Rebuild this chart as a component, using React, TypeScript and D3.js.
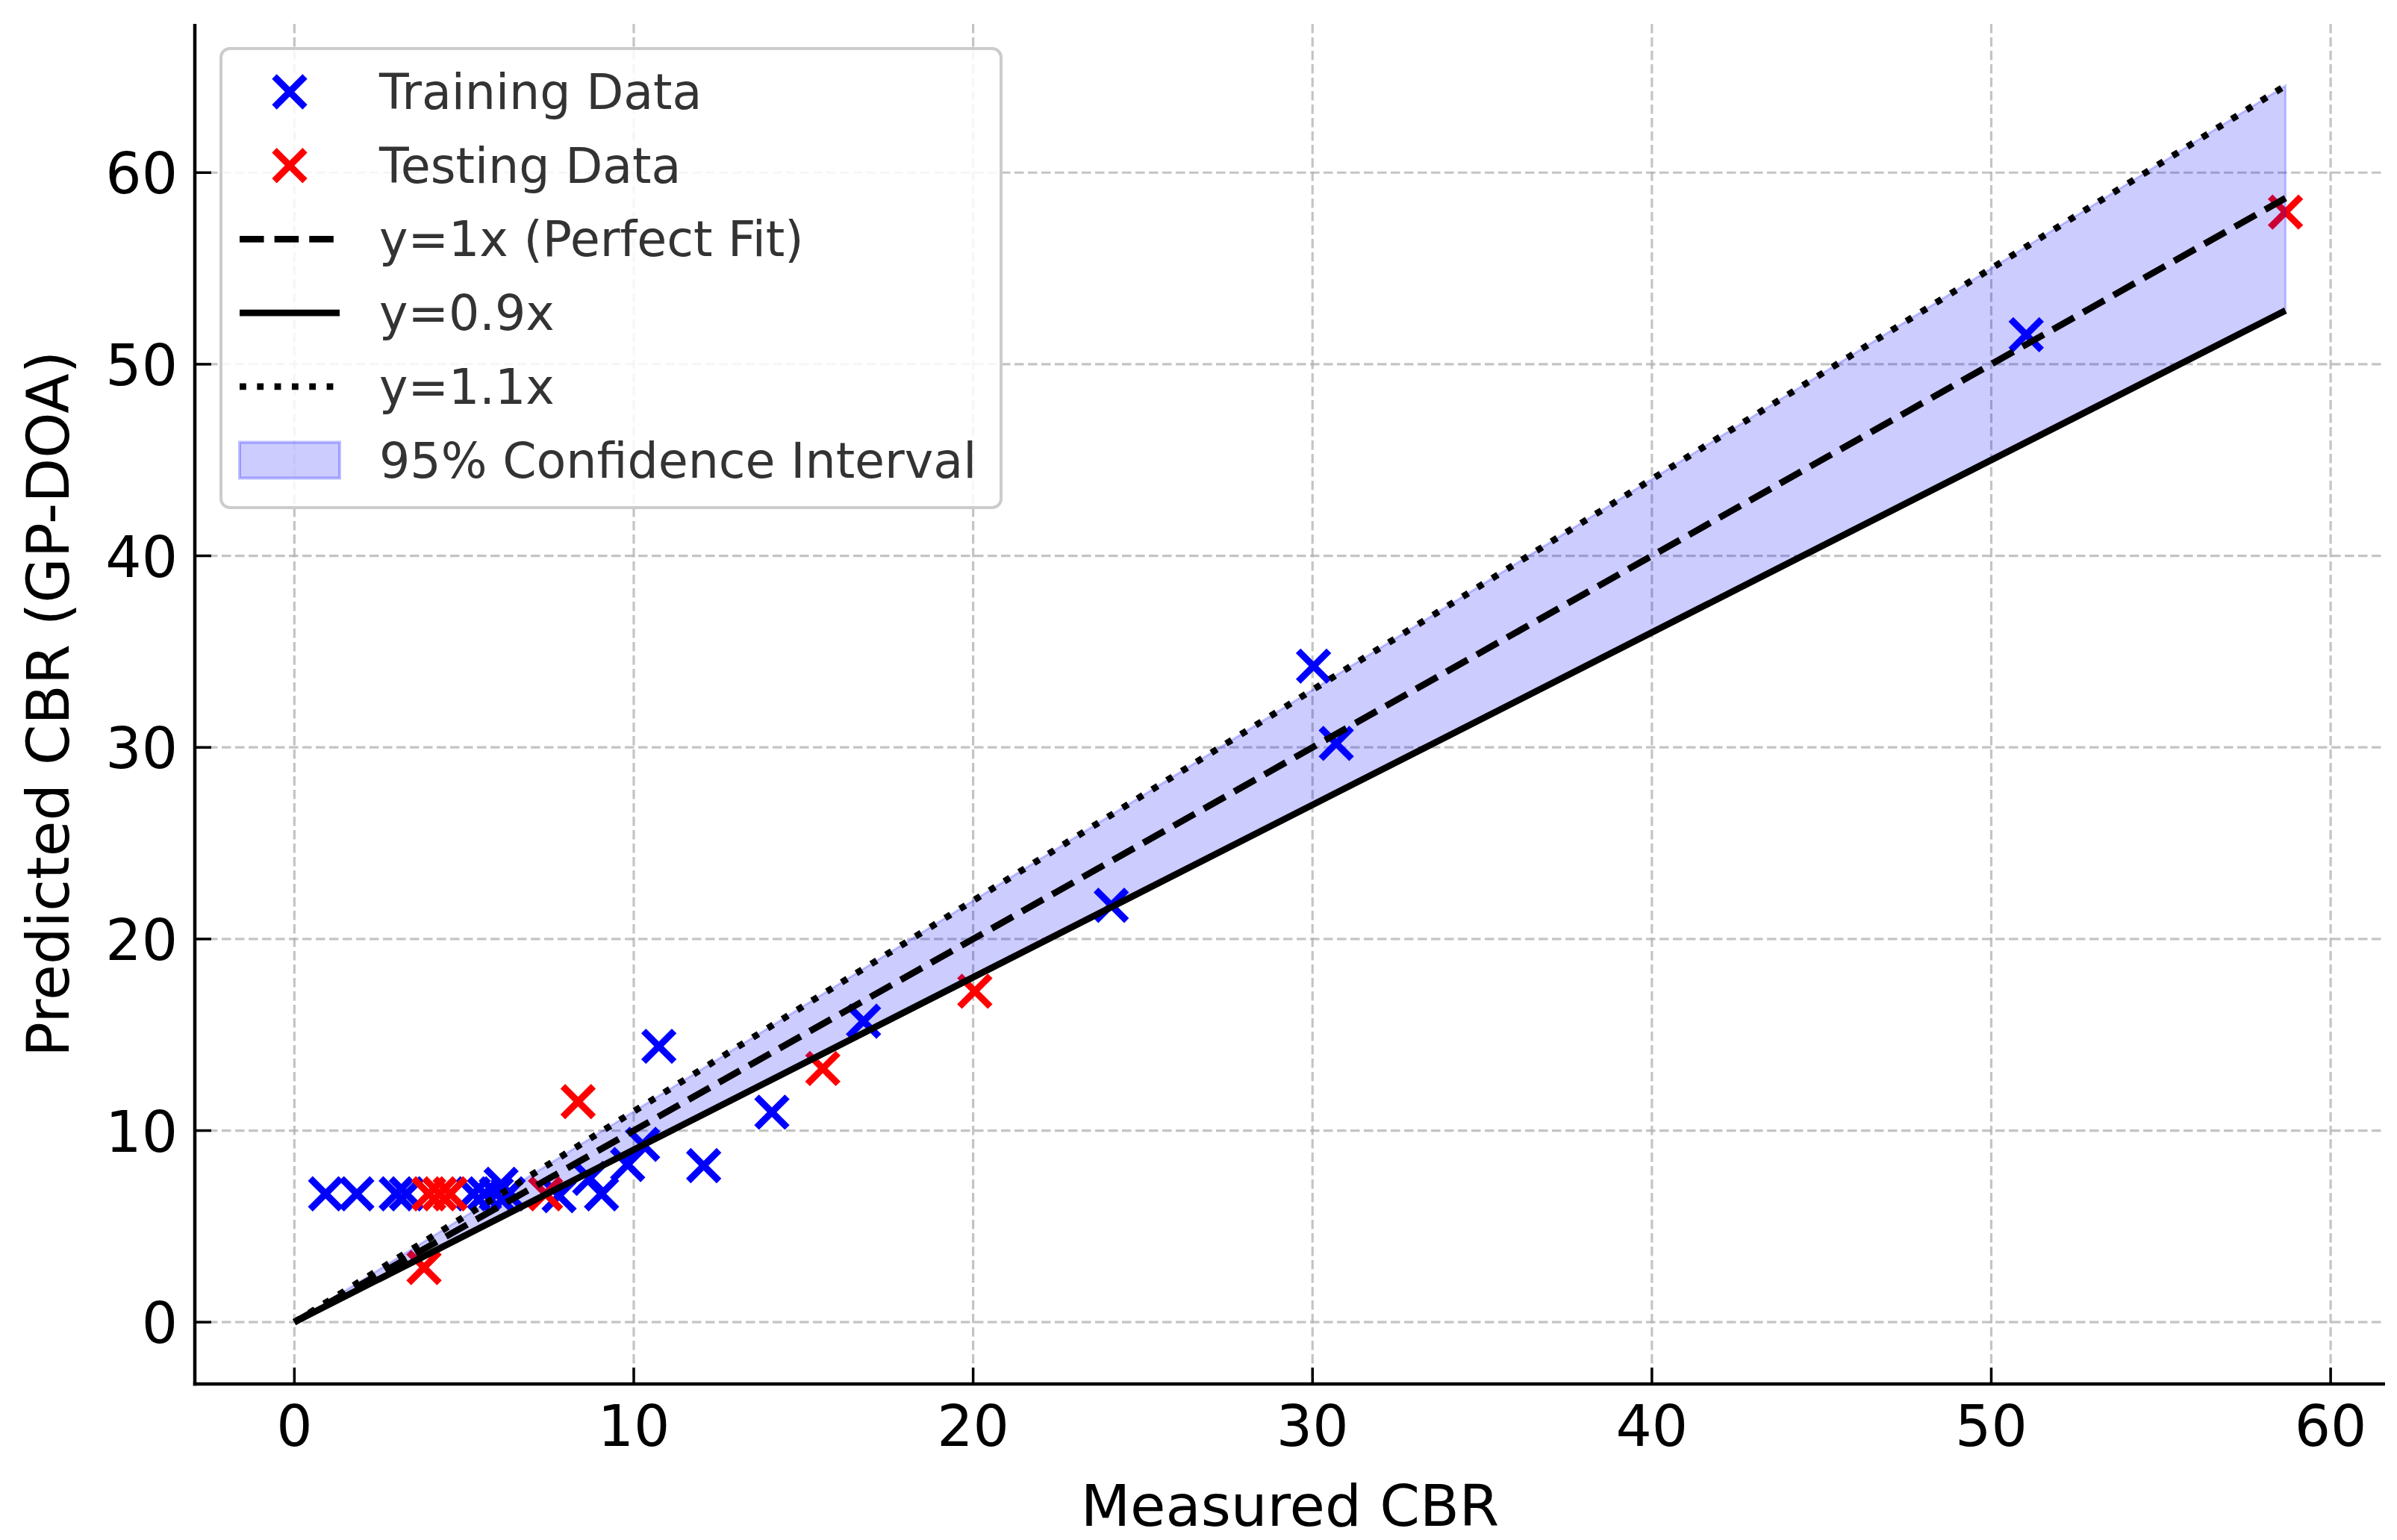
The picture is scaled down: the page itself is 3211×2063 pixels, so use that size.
import React, { useEffect, useRef } from "react";
import * as d3 from "d3";

// measured vs predicted CBR
const trainMeasured = [0.92, 1.84, 3.0, 3.3, 5.27, 5.6, 5.95, 6.09, 6.3, 7.8, 8.7, 9.05, 9.82, 10.26, 10.74, 12.06, 14.07, 16.77, 24.07, 30.03, 30.7, 51.03];
const trainPredicted = [6.7, 6.7, 6.7, 6.7, 6.7, 6.7, 6.7, 7.2, 6.7, 6.6, 7.5, 6.7, 8.23, 9.28, 14.4, 8.17, 10.96, 15.71, 21.76, 34.24, 30.21, 51.54];

const testMeasured = [3.82, 3.96, 4.28, 4.59, 7.4, 8.36, 15.57, 20.05, 58.67];
const testPredicted = [2.85, 6.7, 6.7, 6.7, 6.7, 11.51, 13.24, 17.27, 57.94];

const tickValues = [0, 10, 20, 30, 40, 50, 60];

const lowerFactor = 0.9;
const upperFactor = 1.1;

const legendLabels = [
  "Training Data",
  "Testing Data",
  "y=1x (Perfect Fit)",
  "y=0.9x",
  "y=1.1x",
  "95% Confidence Interval",
];

const W = 3211;
const H = 2063;
const FONT = "'DejaVu Sans', sans-serif";

const Chart: React.FC = () => {
  const ref = useRef<SVGSVGElement | null>(null);

  useEffect(() => {
    const svg = d3.select(ref.current);
    svg.selectAll("*").remove();

    const left = 261, right = 3195, top = 32, bottom = 1854;
    const lw = 8.8;

    const maxX = d3.max([...trainMeasured, ...testMeasured]) ?? 60;
    const maxY = maxX * upperFactor;

    const x = d3
      .scaleLinear()
      .domain([-0.05 * maxX, maxX * 1.05])
      .range([left, right]);
    const y = d3
      .scaleLinear()
      .domain([-0.05 * maxY, maxY * 1.05])
      .range([bottom, top]);

    // grid
    const grid = svg.append("g").attr("stroke", "#b0b0b0").attr("stroke-opacity", 0.75)
      .attr("stroke-width", 3.2).attr("stroke-dasharray", "12.5,5.5");
    grid.selectAll(".gx").data(tickValues).join("line")
      .attr("x1", (d) => x(d)).attr("x2", (d) => x(d))
      .attr("y1", top).attr("y2", bottom);
    grid.selectAll(".gy").data(tickValues).join("line")
      .attr("y1", (d) => y(d)).attr("y2", (d) => y(d))
      .attr("x1", left).attr("x2", right);

    // scatter
    const cross = (g: d3.Selection<SVGGElement, unknown, null, undefined>, xs: number[], ys: number[], color: string) => {
      const r = 20.5;
      g.selectAll("path")
        .data(xs.map((v, i) => [v, ys[i]]))
        .join("path")
        .attr("d", (d) => {
          const cx = x(d[0]), cy = y(d[1]);
          return `M${cx - r},${cy - r}L${cx + r},${cy + r}M${cx - r},${cy + r}L${cx + r},${cy - r}`;
        })
        .attr("stroke", color)
        .attr("stroke-width", 9)
        .attr("fill", "none");
    };
    cross(svg.append("g"), trainMeasured, trainPredicted, "#0000ff");
    cross(svg.append("g"), testMeasured, testPredicted, "#ff0000");

    // confidence band
    const xs = d3.range(0, 51).map((i) => (maxX * i) / 50);
    const band = d3
      .area<number>()
      .x((d) => x(d))
      .y0((d) => y(d * lowerFactor))
      .y1((d) => y(d * upperFactor));
    svg.append("path").datum(xs).attr("d", band)
      .attr("fill", "#0000ff").attr("fill-opacity", 0.2)
      .attr("stroke", "#0000ff").attr("stroke-opacity", 0.2).attr("stroke-width", 3);

    // reference lines
    const refLine = (k: number, dash: string | null) => {
      const line = d3.line<number>().x((d) => x(d)).y((d) => y(d * k));
      const p = svg.append("path").datum([0, maxX]).attr("d", line)
        .attr("fill", "none").attr("stroke", "#000").attr("stroke-width", lw);
      if (dash) p.attr("stroke-dasharray", dash);
    };
    refLine(1, `${3.7 * lw},${1.6 * lw}`);
    refLine(lowerFactor, null);
    refLine(upperFactor, `${lw},${1.65 * lw}`);

    // spines + ticks
    svg.append("line").attr("x1", left).attr("x2", left).attr("y1", top).attr("y2", bottom + 2.2)
      .attr("stroke", "#000").attr("stroke-width", 4.5);
    svg.append("line").attr("x1", left - 2.2).attr("x2", right).attr("y1", bottom).attr("y2", bottom)
      .attr("stroke", "#000").attr("stroke-width", 4.5);

    const tickLen = 22;
    svg.append("g").selectAll("line").data(tickValues).join("line")
      .attr("x1", (d) => x(d)).attr("x2", (d) => x(d))
      .attr("y1", bottom).attr("y2", bottom - tickLen)
      .attr("stroke", "#000").attr("stroke-width", 3.5);
    svg.append("g").selectAll("line").data(tickValues).join("line")
      .attr("y1", (d) => y(d)).attr("y2", (d) => y(d))
      .attr("x1", left).attr("x2", left + tickLen)
      .attr("stroke", "#000").attr("stroke-width", 3.5);

    svg.append("g").selectAll("text").data(tickValues).join("text")
      .attr("x", (d) => x(d)).attr("y", 1937)
      .attr("text-anchor", "middle")
      .attr("font-family", FONT).attr("font-size", 76).attr("fill", "#000")
      .text((d) => d);
    svg.append("g").selectAll("text").data(tickValues).join("text")
      .attr("x", 238).attr("y", (d) => y(d) + 28)
      .attr("text-anchor", "end")
      .attr("font-family", FONT).attr("font-size", 76).attr("fill", "#000")
      .text((d) => d);

    // axis labels
    svg.append("text").attr("x", (left + right) / 2).attr("y", 2044)
      .attr("text-anchor", "middle").attr("font-family", FONT).attr("font-size", 77)
      .attr("fill", "#000").text("Measured CBR");
    svg.append("text").attr("transform", `translate(92,${(top + bottom) / 2}) rotate(-90)`)
      .attr("text-anchor", "middle").attr("font-family", FONT).attr("font-size", 78)
      .attr("fill", "#000").text("Predicted CBR (GP-DOA)");

    // legend
    const lg = svg.append("g");
    lg.append("rect").attr("x", 296).attr("y", 65).attr("width", 1045).attr("height", 615)
      .attr("rx", 12).attr("fill", "#fff").attr("fill-opacity", 0.85)
      .attr("stroke", "#cccccc").attr("stroke-width", 4);
    const rowY = (i: number) => 123 + i * 98.7;
    const hx0 = 321, hx1 = 455, hcx = 388;
    const legendCross = (cy: number, color: string) => {
      const r = 20.5;
      lg.append("path")
        .attr("d", `M${hcx - r},${cy - r}L${hcx + r},${cy + r}M${hcx - r},${cy + r}L${hcx + r},${cy - r}`)
        .attr("stroke", color).attr("stroke-width", 9).attr("fill", "none");
    };
    legendCross(rowY(0), "#0000ff");
    legendCross(rowY(1), "#ff0000");
    const legendLine = (cy: number, dash: string | null) => {
      const p = lg.append("line").attr("x1", hx0).attr("x2", hx1).attr("y1", cy).attr("y2", cy)
        .attr("stroke", "#000").attr("stroke-width", lw);
      if (dash) p.attr("stroke-dasharray", dash);
    };
    legendLine(rowY(2), `${3.7 * lw},${1.6 * lw}`);
    legendLine(rowY(3), null);
    legendLine(rowY(4), `${lw},${1.65 * lw}`);
    lg.append("rect").attr("x", hx0).attr("y", rowY(5) - 24).attr("width", hx1 - hx0).attr("height", 48)
      .attr("fill", "#0000ff").attr("fill-opacity", 0.2)
      .attr("stroke", "#0000ff").attr("stroke-opacity", 0.25).attr("stroke-width", 4);
    lg.selectAll("text").data(legendLabels).join("text")
      .attr("x", 508).attr("y", (d, i) => rowY(i) + 23)
      .attr("font-family", FONT).attr("font-size", 65).attr("fill", "#333")
      .text((d) => d);
  }, []);

  return <svg ref={ref} width={W} height={H} style={{ display: "block" }} />;
};

export default function App() {
  return (
    <div style={{ position: "absolute", left: 0, top: 0, background: "#fff" }}>
      <Chart />
    </div>
  );
}
